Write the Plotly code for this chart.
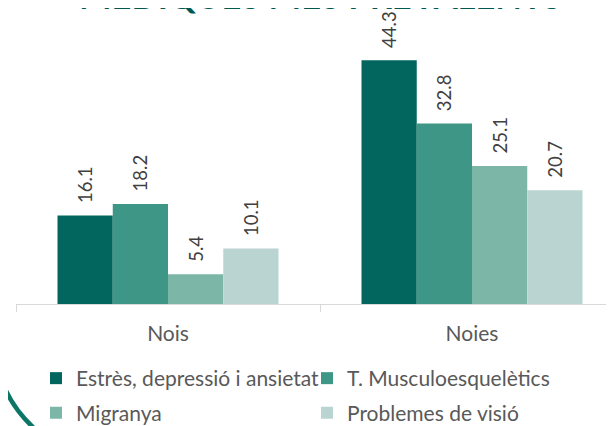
import plotly.graph_objects as go

categories = ["Nois", "Noies"]
series_names = ["Estrès, depressió i ansietat", "T. Musculoesquelètics", "Migranya", "Problemes de visió"]
estres = [16.1, 44.3]
musculo = [18.2, 32.8]
migranya = [5.4, 25.1]
visio = [10.1, 20.7]
colors = ["#02665E", "#3E9686", "#7CB6A7", "#BAD4D1"]
title_text = "MÈDIQUES MÉS PREVALENTS"

OFF = 8  # page body margin
W, H = 614 - OFF, 426 - OFF
ML, MT = 16 - OFF, 29 - OFF
PW = 612 - 16
PH = 304 - 29
MR = W - ML - PW
MB = H - MT - PH

def px_x(x):  # window pixel -> paper
    return (x - OFF - ML) / PW

def px_y(y):
    return (MT + PH - (y - OFF)) / PH

def cx(x):  # window pixel -> container
    return (x - OFF) / W

def cy(y):
    return 1 - (y - OFF) / H

fig = go.Figure()
values = [estres, musculo, migranya, visio]
legends = ["legend", "legend", "legend2", "legend2"]
for name, vals, col, lg in zip(series_names, values, colors, legends):
    fig.add_trace(go.Bar(
        x=categories, y=vals, name=name,
        marker=dict(color=col, line=dict(width=0)),
        text=["\u00a0\u00a0" + f"{v:.1f}" for v in vals],
        textposition="outside", textangle=-90, constraintext="none",
        textfont=dict(family="Lato", size=18.5, color="#404040"),
        cliponaxis=False, legend=lg,
    ))

arc = f"M {px_x(-1)},{px_y(371)} Q {px_x(7)},{px_y(404)} {px_x(36)},{px_y(430)}"

legend_common = dict(orientation="h", xref="container", yref="container",
                     xanchor="left", yanchor="middle", entrywidth=226,
                     font=dict(size=21, color="#595959"), traceorder="normal",
                     bgcolor="rgba(0,0,0,0)")

fig.update_layout(
    width=W, height=H,
    margin=dict(l=ML, r=MR, t=MT, b=MB, autoexpand=False),
    paper_bgcolor="white", plot_bgcolor="white",
    barmode="group", bargap=0.273, bargroupgap=0,
    font=dict(family="Lato", color="#595959"),
    xaxis=dict(range=[-0.5, -0.5 + PW / 304], showgrid=False,
               showline=True, linecolor="#D9D9D9", linewidth=1,
               ticks="outside", tickson="boundaries", ticklen=7, tickcolor="#D9D9D9",
               ticklabelstandoff=11,
               tickfont=dict(size=21, color="#595959"), fixedrange=True),
    yaxis=dict(range=[0, 50], visible=False, showgrid=False, zeroline=False),
    legend=dict(legend_common, x=cx(36), y=cy(378.5)),
    legend2=dict(legend_common, x=cx(36), y=cy(413)),
    shapes=[dict(type="path", xref="paper", yref="paper", path=arc,
                 line=dict(color="#0B7566", width=4.5))],
    annotations=[dict(text=f"<b>{title_text}</b>", xref="paper", yref="paper",
                      x=px_x(320), y=px_y(17.5), xanchor="center", yanchor="bottom",
                      showarrow=False, font=dict(family="Lato", size=34.5, color="#00594F"))],
)

fig.write_html("out.html")
